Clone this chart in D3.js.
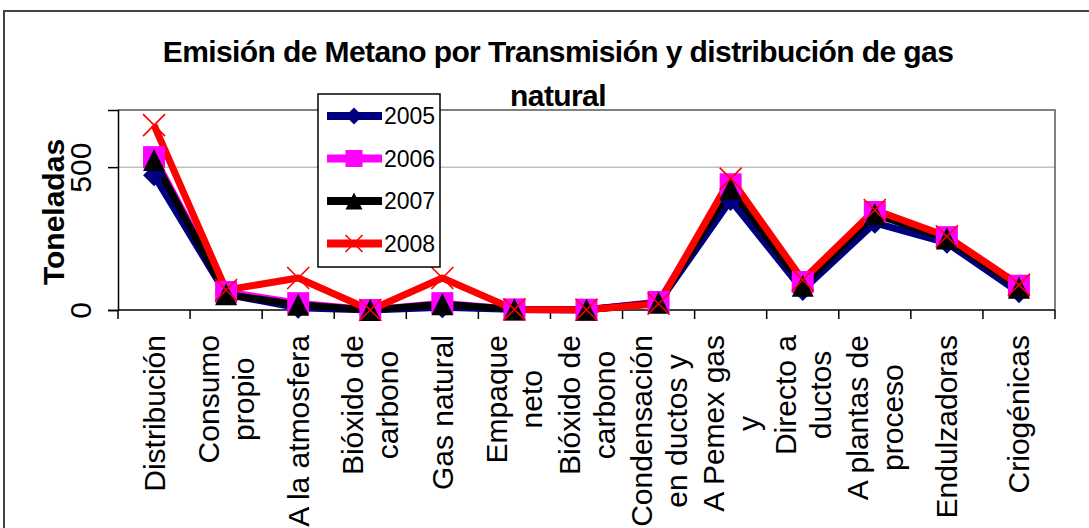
<!DOCTYPE html>
<html>
<head>
<meta charset="utf-8">
<title>Emisión de Metano</title>
<style>
body { margin: 0; background: #fff; }
svg { display: block; }
text { font-family: "Liberation Sans", Arial, sans-serif; fill: #000; }
</style>
</head>
<body>
<svg width="1089" height="528"></svg>
<script src="https://cdn.jsdelivr.net/npm/d3@7/dist/d3.min.js"></script>
<script>

// categorias (cada una partida en renglones como en la grafica original)
var categories = [
  ["Distribución"],
  ["Consumo", "propio"],
  ["A la atmosfera"],
  ["Bióxido de", "carbono"],
  ["Gas natural"],
  ["Empaque", "neto"],
  ["Bióxido de", "carbono"],
  ["Condensación", "en ductos y"],
  ["A Pemex gas", "y"],
  ["Directo a", "ductos"],
  ["A plantas de", "proceso"],
  ["Endulzadoras"],
  ["Criogénicas"]
];

var years = ["2005", "2006", "2007", "2008"];

var v2005 = [472, 55, 8, 0, 10, 2, 1, 25, 385, 70, 305, 235, 62];
var v2006 = [535, 63, 24, 0, 24, 2, 1, 28, 440, 98, 343, 255, 85];
var v2007 = [525, 55, 18, 0, 20, 2, 1, 25, 425, 85, 335, 250, 78];
var v2008 = [647, 70, 112, 0, 112, 2, 1, 22, 460, 105, 350, 258, 88];

var yTicks = [0, 500];

var series = [
  { name: years[0], values: v2005, color: "#000080", marker: "diamond" },
  { name: years[1], values: v2006, color: "#ff00ff", marker: "square" },
  { name: years[2], values: v2007, color: "#000000", marker: "triangle" },
  { name: years[3], values: v2008, color: "#ff0000", marker: "cross" }
];

var svg = d3.select("svg");

var plotLeft = 118, plotRight = 1055, plotTop = 110, plotBottom = 310;

var x = d3.scaleBand()
    .domain(d3.range(categories.length))
    .range([plotLeft, plotRight]);

var y = d3.scaleLinear()
    .domain([0, 700])
    .range([plotBottom, plotTop]);

// marco exterior
svg.append("path")
    .attr("d", "M4,528 V11 H1089")
    .attr("fill", "none")
    .attr("stroke", "#444")
    .attr("stroke-width", 2);

// titulo
var title = svg.append("text")
    .attr("text-anchor", "middle")
    .style("font-weight", "bold")
    .style("font-size", "30px")
    .style("letter-spacing", "-0.6px");
title.append("tspan").attr("x", 558).attr("y", 62)
    .text("Emisión de Metano por Transmisión y distribución de gas");
title.append("tspan").attr("x", 558).attr("y", 106)
    .text("natural");

// rejilla
svg.append("g")
  .selectAll("line")
  .data(yTicks.filter(function(d) { return d > 0; }))
  .enter().append("line")
    .attr("x1", plotLeft).attr("x2", plotRight)
    .attr("y1", function(d) { return y(d); })
    .attr("y2", function(d) { return y(d); })
    .attr("stroke", "#c0c0c0")
    .attr("stroke-width", 1.5);

// borde del area de trazado
svg.append("path")
    .attr("d", "M" + plotLeft + "," + plotTop + " H" + plotRight + " V" + plotBottom)
    .attr("fill", "none")
    .attr("stroke", "#808080")
    .attr("stroke-width", 2);

// eje y
var yAxis = svg.append("g")
    .attr("transform", "translate(" + plotLeft + ",0)")
    .call(d3.axisLeft(y).tickValues(yTicks).tickSize(10).tickPadding(0));
yAxis.select(".domain").attr("stroke", "#000").attr("stroke-width", 1.5);
yAxis.selectAll(".tick line").attr("stroke", "#000").attr("stroke-width", 1.5);
yAxis.selectAll(".tick text")
    .attr("x", null)
    .attr("transform", "translate(-38,0) rotate(-90)")
    .attr("text-anchor", "middle")
    .attr("dy", "0.35em")
    .style("font-size", "30px")
    .style("font-family", "'Liberation Sans', Arial, sans-serif");

svg.append("text")
    .attr("transform", "translate(53,212) rotate(-90)")
    .attr("text-anchor", "middle")
    .attr("dy", "0.35em")
    .style("font-weight", "bold")
    .style("font-size", "30px")
    .text("Toneladas");

// eje x
svg.append("line")
    .attr("x1", plotLeft).attr("x2", plotRight)
    .attr("y1", plotBottom).attr("y2", plotBottom)
    .attr("stroke", "#000").attr("stroke-width", 1.5);

svg.append("g")
  .selectAll("line")
  .data(d3.range(categories.length + 1))
  .enter().append("line")
    .attr("x1", function(i) { return plotLeft + i * x.step(); })
    .attr("x2", function(i) { return plotLeft + i * x.step(); })
    .attr("y1", plotBottom).attr("y2", plotBottom + 9)
    .attr("stroke", "#000").attr("stroke-width", 1.5);

var labels = svg.append("g")
  .selectAll("g")
  .data(categories)
  .enter().append("g")
    .attr("transform", function(d, i) {
      return "translate(" + (x(i) + x.bandwidth() / 2) + ",335) rotate(-90)";
    });

labels.each(function(lines) {
  var g = d3.select(this);
  var n = lines.length;
  var t = g.selectAll("text")
    .data(lines)
    .enter().append("text")
      .attr("text-anchor", "middle")
      .attr("y", function(d, j) { return (j - (n - 1) / 2) * 35; })
      .attr("dy", "0.35em")
      .style("font-size", "30px")
      .text(function(d) { return d; });
  var maxLen = 0;
  t.each(function() { maxLen = Math.max(maxLen, this.getComputedTextLength()); });
  t.attr("x", -maxLen / 2);
});

// simbolos
function markerPath(type, s) {
  var h = s / 2;
  if (type === "diamond") return "M0," + (-h) + "L" + h + ",0L0," + h + "L" + (-h) + ",0Z";
  if (type === "square") return "M" + (-h) + "," + (-h) + "H" + h + "V" + h + "H" + (-h) + "Z";
  if (type === "triangle") return "M0," + (-h) + "L" + h + "," + h + "L" + (-h) + "," + h + "Z";
  return "M" + (-h) + "," + (-h) + "L" + h + "," + h + "M" + h + "," + (-h) + "L" + (-h) + "," + h;
}

function drawMarker(sel, s) {
  sel.append("path")
    .attr("d", function(d) { return markerPath(d.marker, s); })
    .attr("fill", function(d) { return d.marker === "cross" ? "none" : d.color; })
    .attr("stroke", function(d) { return d.color; })
    .attr("stroke-width", function(d) { return d.marker === "cross" ? 1.6 : 0; });
}

var line = d3.line()
    .x(function(d, i) { return x(i) + x.bandwidth() / 2; })
    .y(function(d) { return y(d); });

// primero todas las lineas, luego los marcadores
svg.append("g")
  .selectAll("path")
  .data(series)
  .enter().append("path")
    .attr("d", function(d) { return line(d.values); })
    .attr("fill", "none")
    .attr("stroke", function(d) { return d.color; })
    .attr("stroke-width", 7)
    .attr("stroke-linejoin", "round");

series.forEach(function(s) {
  var pts = svg.append("g")
    .selectAll("g")
    .data(s.values.map(function(v, i) { return { v: v, i: i, marker: s.marker, color: s.color }; }))
    .enter().append("g")
      .attr("transform", function(d) {
        return "translate(" + (x(d.i) + x.bandwidth() / 2) + "," + y(d.v) + ")";
      });
  drawMarker(pts, 22);
});

// leyenda
var legend = svg.append("g");
legend.append("rect")
    .attr("x", 318).attr("y", 94)
    .attr("width", 122).attr("height", 173)
    .attr("fill", "#fff")
    .attr("stroke", "#000")
    .attr("stroke-width", 1.5);

var items = legend.selectAll("g.item")
  .data(series)
  .enter().append("g")
    .attr("class", "item")
    .attr("transform", function(d, i) { return "translate(0," + (116 + i * 42.5) + ")"; });

items.append("line")
    .attr("x1", 327).attr("x2", 382)
    .attr("stroke", function(d) { return d.color; })
    .attr("stroke-width", 8);

var lm = items.append("g").attr("transform", "translate(354,0)");
drawMarker(lm, 17);

items.append("text")
    .attr("x", 384)
    .attr("dy", "0.35em")
    .style("font-size", "23px")
    .text(function(d) { return d.name; });

</script>
</body>
</html>
